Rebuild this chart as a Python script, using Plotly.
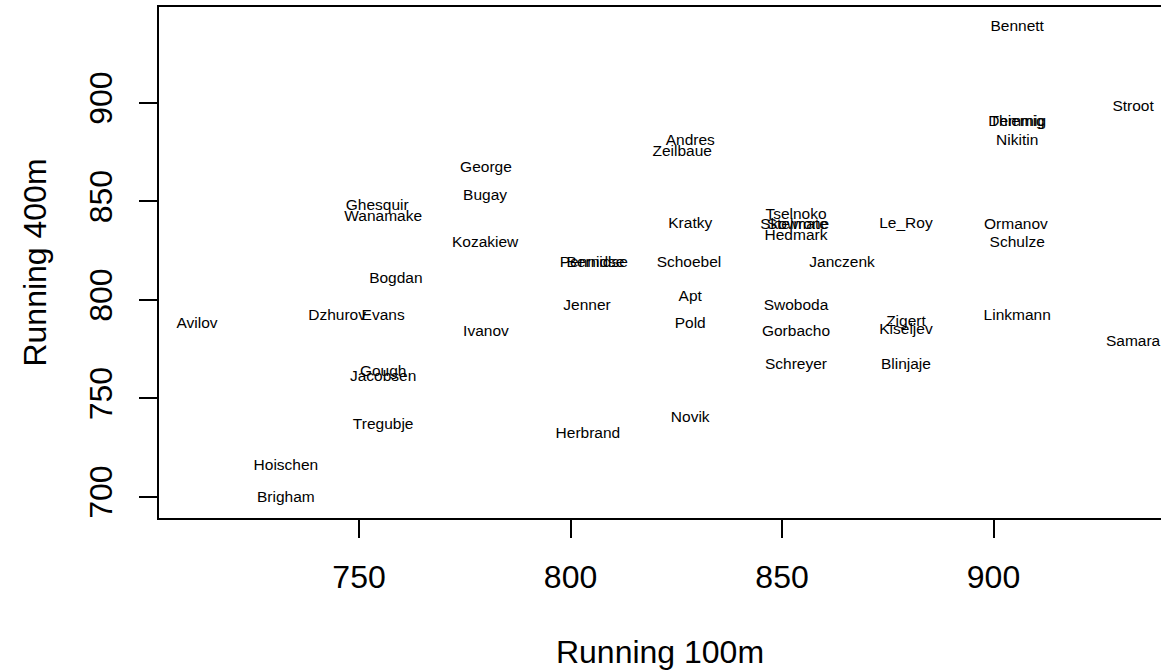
import plotly.graph_objects as go

# Decathlon scores: points for the 100m and 400m runs, labelled by athlete
athletes = [
    "Bennett", "Stroot", "Thiemig", "Demmig", "Nikitin", "Andres", "Zeilbaue",
    "George", "Bugay", "Ghesquir", "Wanamake", "Kozakiew", "Kratky", "Tselnoko",
    "Skowrone", "Stelmate", "Hedmark", "Le_Roy", "Ormanov", "Schulze", "Janczenk",
    "Schoebel", "Bernidse", "Pennidse", "Bogdan", "Apt", "Jenner", "Swoboda",
    "Linkmann", "Avilov", "Dzhurov", "Evans", "Pold", "Ivanov", "Gorbacho",
    "Zigert", "Kiseljev", "Samara", "Schreyer", "Blinjaje", "Gough", "Jacobsen",
    "Tregubje", "Novik", "Herbrand", "Hoischen", "Brigham",
]
run_100m = [
    905.6, 933.0, 905.6, 905.6, 905.6, 828.3, 826.4,
    780.0, 779.8, 754.3, 755.7, 779.8, 828.3, 853.3,
    853.0, 853.6, 853.3, 879.3, 905.3, 905.6, 864.2,
    828.0, 806.3, 805.1, 758.7, 828.3, 803.9, 853.3,
    905.6, 711.7, 744.8, 755.7, 828.3, 780.0, 853.3,
    879.3, 879.3, 933.0, 853.3, 879.3, 755.7, 755.7,
    755.7, 828.3, 804.1, 732.7, 732.7,
]
run_400m = [
    938.6, 898.0, 890.4, 890.4, 880.7, 880.7, 875.1,
    867.0, 852.8, 847.7, 842.1, 828.9, 838.6, 843.1,
    838.1, 838.1, 832.5, 838.6, 838.1, 828.9, 818.8,
    818.8, 818.8, 818.8, 810.7, 801.5, 797.0, 797.0,
    791.9, 787.8, 791.9, 791.9, 787.8, 783.8, 783.8,
    788.8, 784.8, 778.7, 767.0, 767.0, 763.5, 760.9,
    736.5, 740.1, 732.0, 715.7, 699.5,
]

x_ticks = [750, 800, 850, 900]
y_ticks = [700, 750, 800, 850, 900]

FONT = "Liberation Sans, Arial, Helvetica, sans-serif"

fig = go.Figure(
    go.Scatter(
        x=run_100m,
        y=run_400m,
        mode="text",
        text=athletes,
        textposition="middle center",
        textfont=dict(family=FONT, size=15.5, color="black"),
        hoverinfo="text",
    )
)

axis_common = dict(
    showgrid=False,
    zeroline=False,
    showline=True,
    linecolor="black",
    linewidth=1.5,
    ticks="outside",
    ticklen=18,
    tickwidth=1.5,
    tickcolor="black",
    tickfont=dict(family=FONT, size=32, color="black"),
)

fig.update_layout(
    width=1161,
    height=670,
    margin=dict(l=159, r=0, t=7, b=152),
    paper_bgcolor="white",
    plot_bgcolor="white",
    showlegend=False,
    xaxis=dict(
        **axis_common,
        range=[702.7, 939.6],
        tickvals=x_ticks,
        mirror=True,
        ticklabelstandoff=12,
        title=dict(text="Running 100m", font=dict(family=FONT, size=32, color="black"), standoff=47),
    ),
    yaxis=dict(
        **axis_common,
        range=[689.3, 948.7],
        tickvals=y_ticks,
        tickangle=-90,
        mirror=False,
        ticklabelstandoff=14,
        title=dict(text="Running 400m", font=dict(family=FONT, size=32, color="black"), standoff=27),
    ),
)

fig.write_html("out.html")
